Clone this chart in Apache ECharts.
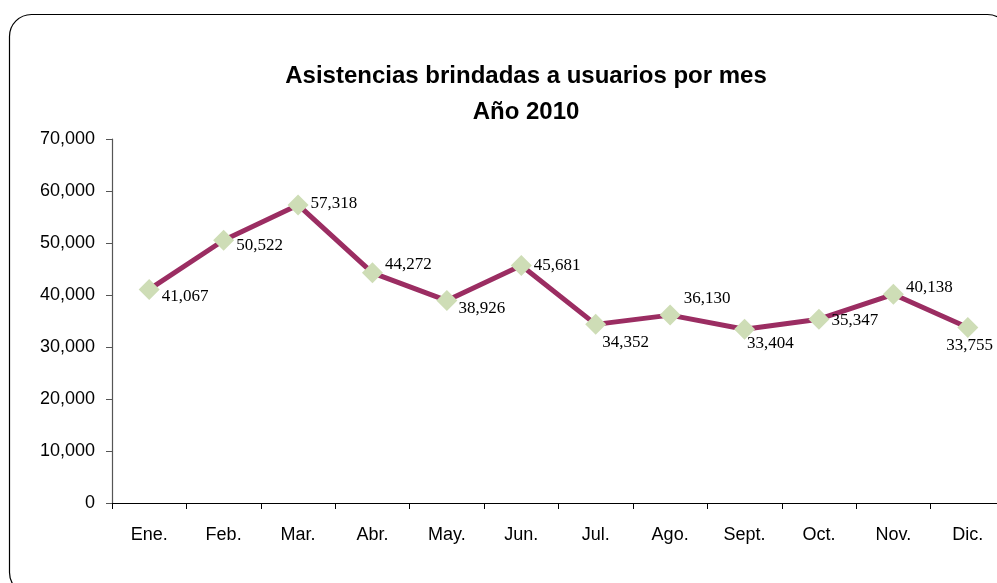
<!DOCTYPE html>
<html>
<head>
<meta charset="utf-8">
<script src="https://cdn.jsdelivr.net/npm/echarts@6/dist/echarts.min.js"></script>
<style>html,body{margin:0;padding:0;background:#fff}#c{width:997px;height:583px}</style>
</head>
<body>
<div id="c"></div>
<script>
const categories = ['Ene.', 'Feb.', 'Mar.', 'Abr.', 'May.', 'Jun.', 'Jul.', 'Ago.', 'Sept.', 'Oct.', 'Nov.', 'Dic.'];
const values = [41067, 50522, 57318, 44272, 38926, 45681, 34352, 36130, 33404, 35347, 40138, 33755];
const titleLines = ['Asistencias brindadas a usuarios por mes', 'Año 2010'];

// label placement per point (styling only)
const labelOffsets = [[-2,7],[-2,5],[-2,-1],[-2,-8],[-3,8],[-2,0],[-8,18],[-1,-17],[-12,14],[-2,1],[-2,-7],[-36,18]];

const chart = echarts.init(document.getElementById('c'));
chart.setOption({
  animation: false,
  title: {
    text: titleLines.join('\n'),
    left: 521, top: 53, textAlign: 'center',
    textStyle: {fontFamily: 'Liberation Sans', fontWeight: 'bold', fontSize: 24, color: '#000', lineHeight: 36}
  },
  graphic: [{
    type: 'rect', shape: {x: 9.5, y: 14.5, width: 1000, height: 580, r: 22},
    style: {fill: 'none', stroke: '#000', lineWidth: 1.2}, z: -1
  }],
  grid: {left: 112, top: 139, bottom: 80, width: 893, containLabel: false, outerBoundsMode: 'none'},
  xAxis: {
    type: 'category', data: categories, boundaryGap: true,
    axisLine: {lineStyle: {color: '#000', width: 1.2}},
    axisTick: {show: true, length: 6, inside: false, lineStyle: {color: '#000'}},
    axisLabel: {fontFamily: 'Liberation Sans', fontSize: 18, color: '#000', margin: 23, interval: 0}
  },
  yAxis: {
    type: 'value', min: 0, max: 70000, interval: 10000,
    splitLine: {show: false},
    axisLine: {show: true, lineStyle: {color: '#555', width: 1.2}},
    axisTick: {show: true, length: 6, lineStyle: {color: '#555'}},
    axisLabel: {fontFamily: 'Liberation Sans', fontSize: 18, color: '#000', margin: 17,
      formatter: v => v.toLocaleString('en-US')}
  },
  series: [{
    type: 'line',
    data: values.map((v, i) => ({
      value: v,
      label: {offset: labelOffsets[i]}
    })),
    lineStyle: {color: '#9B2D62', width: 5},
    symbol: 'diamond', symbolSize: 21,
    itemStyle: {color: '#CEDDB6'},
    label: {
      show: true, position: 'right', distance: 4,
      fontFamily: 'Liberation Serif', fontSize: 17, color: '#000',
      formatter: p => p.value.toLocaleString('en-US')
    },
    z: 3
  }]
});
</script>
</body>
</html>
